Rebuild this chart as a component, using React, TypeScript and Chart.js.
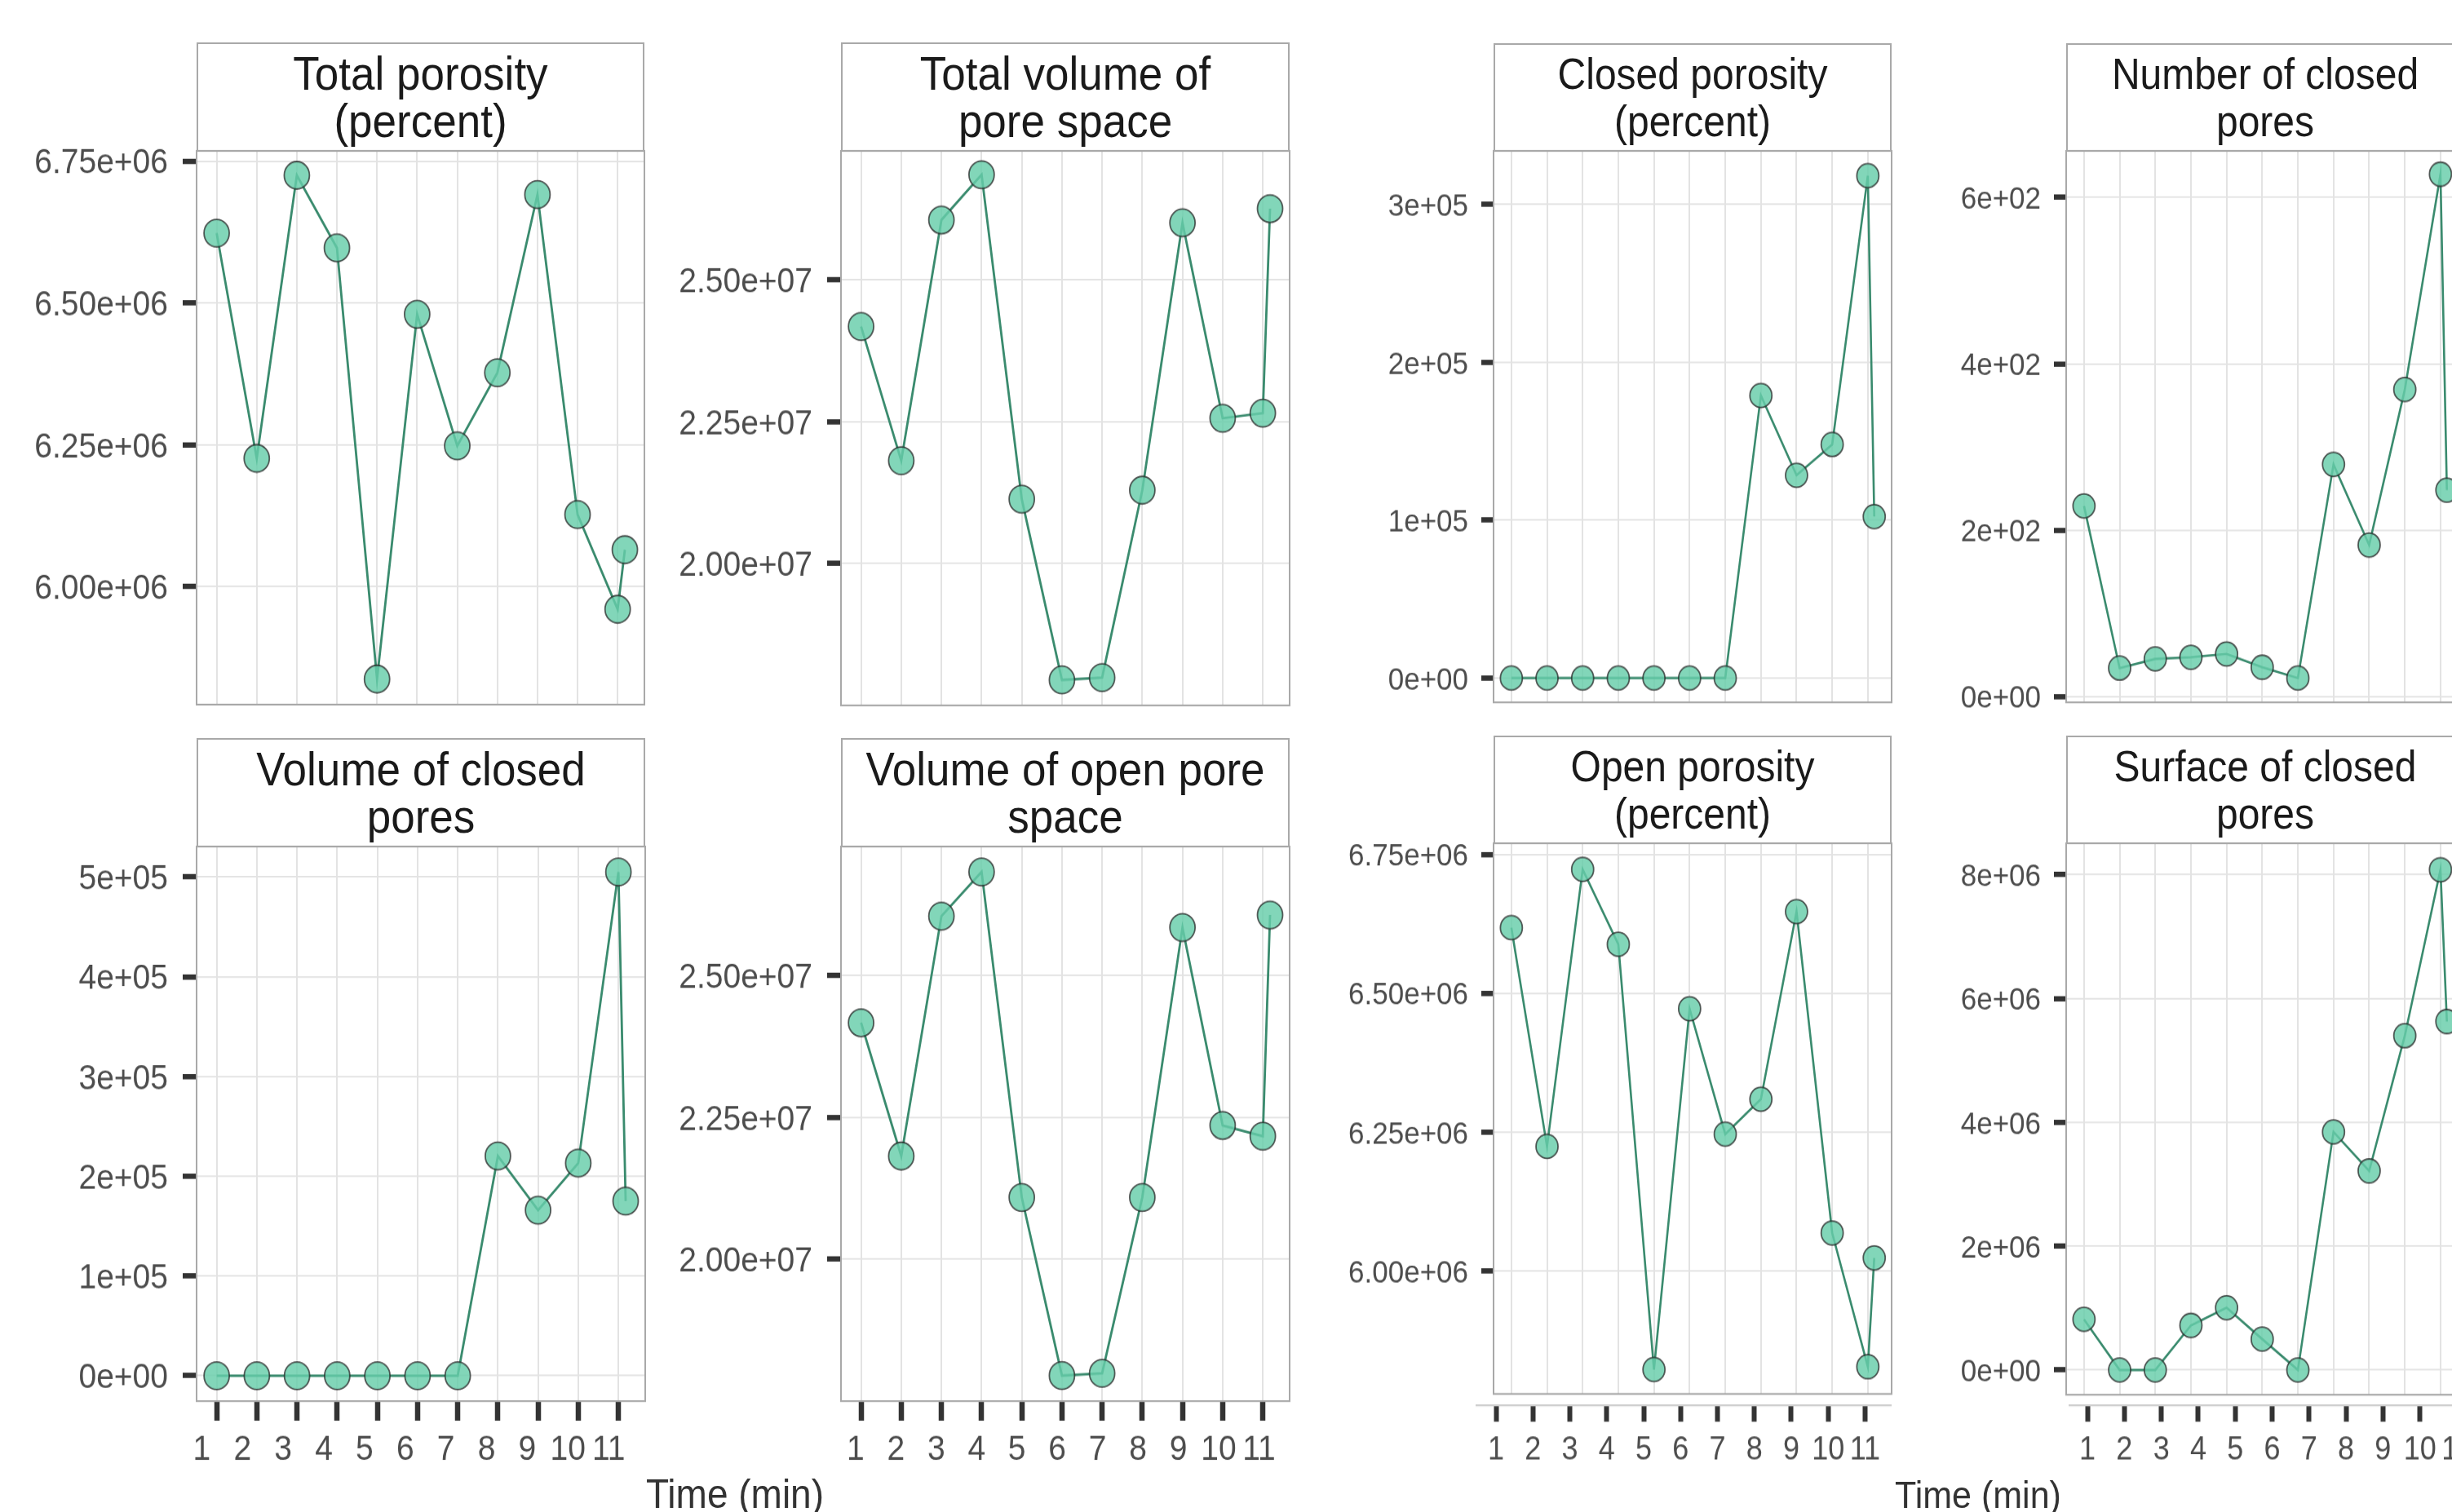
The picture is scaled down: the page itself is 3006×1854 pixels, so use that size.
import React, { useEffect, useRef } from 'react';
import { Chart, registerables } from 'chart.js';

Chart.register(...registerables);

const FONT = '"Liberation Sans", Arial, Helvetica, sans-serif';

// ---------------- data ----------------
const timeMin = [1, 2, 3, 4, 5, 6, 7, 8, 9, 10, 11, 11.18];
const xTickValues = [1, 2, 3, 4, 5, 6, 7, 8, 9, 10, 11];
const xTickLabels = ['1', '2', '3', '4', '5', '6', '7', '8', '9', '10', '11'];

const totalPorosity = [6.623e6, 6.226e6, 6.725e6, 6.597e6, 5.837e6, 6.48e6, 6.248e6, 6.377e6, 6.691e6, 6.127e6, 5.96e6, 6.065e6];
const totalPoreVolume = [2.418e7, 2.181e7, 2.606e7, 2.686e7, 2.113e7, 1.794e7, 1.798e7, 2.129e7, 2.601e7, 2.256e7, 2.265e7, 2.626e7];
const closedPorosity = [0, 0, 0, 0, 0, 0, 0, 1.79e5, 1.285e5, 1.48e5, 3.183e5, 1.023e5];
const closedPoreCount = [229, 34, 45, 47, 51, 35, 22, 279, 182, 369, 628, 248];
const closedPoreVolume = [0, 0, 0, 0, 0, 0, 0, 2.203e5, 1.66e5, 2.132e5, 5.05e5, 1.751e5];
const openPoreVolume = [2.417e7, 2.182e7, 2.605e7, 2.683e7, 2.109e7, 1.795e7, 1.799e7, 2.109e7, 2.585e7, 2.236e7, 2.217e7, 2.607e7];
const openPorosity = [6.618e6, 6.224e6, 6.723e6, 6.588e6, 5.822e6, 6.472e6, 6.246e6, 6.309e6, 6.647e6, 6.068e6, 5.827e6, 6.023e6];
const closedPoreSurface = [0.818e6, 0, 0, 0.72e6, 1.006e6, 0.499e6, 0, 3.845e6, 3.215e6, 5.399e6, 8.08e6, 5.628e6];

const porosityTicks = [6.0e6, 6.25e6, 6.5e6, 6.75e6];
const porosityTickLabels = ['6.00e+06', '6.25e+06', '6.50e+06', '6.75e+06'];
const poreVolumeTicks = [2.0e7, 2.25e7, 2.5e7];
const poreVolumeTickLabels = ['2.00e+07', '2.25e+07', '2.50e+07'];
const closedPorosityTicks = [0, 1e5, 2e5, 3e5];
const closedPorosityTickLabels = ['0e+00', '1e+05', '2e+05', '3e+05'];
const closedCountTicks = [0, 200, 400, 600];
const closedCountTickLabels = ['0e+00', '2e+02', '4e+02', '6e+02'];
const closedVolumeTicks = [0, 1e5, 2e5, 3e5, 4e5, 5e5];
const closedVolumeTickLabels = ['0e+00', '1e+05', '2e+05', '3e+05', '4e+05', '5e+05'];
const surfaceTicks = [0, 2e6, 4e6, 6e6, 8e6];
const surfaceTickLabels = ['0e+00', '2e+06', '4e+06', '6e+06', '8e+06'];

// ---------------- layout ----------------
type Side = 'left' | 'right';
type XMode = 'none' | 'split' | 'offset';
interface PanelSpec {
  title: string[];
  values: number[];
  yRange: [number, number];
  yTicks: number[];
  yLabels: string[];
  box: { l: number; t: number; r: number; b: number };
  stripTop: number;
  side: Side;
  xMode: XMode;
  gap?: number;
  x2Range?: [number, number];
  axisLineLeft?: number;
}

const SIDE_STYLE = {
  left: { yFont: 39, xFont: 39, strip: 53, tickLen: 17, tickPad: 18, pointR: 15.5, lineW: 2.8 },
  right: { yFont: 35, xFont: 36, strip: 48, tickLen: 15, tickPad: 16, pointR: 13.5, lineW: 2.6 },
};

// vertical stretch of the rendering (the reference is taller than wide)
const S = 1.09;
const STRIP_S = 1.1;
const STRIP_LH = 58;

const X_RANGE: [number, number] = [0.5, 11.667];

const PANELS: PanelSpec[] = [
  { title: ['Total porosity', '(percent)'], values: totalPorosity, yRange: [5.792e6, 6.768e6], yTicks: porosityTicks, yLabels: porosityTickLabels, box: { l: 241, t: 185, r: 790, b: 864 }, stripTop: 52, side: 'left', xMode: 'none' },
  { title: ['Total volume of', 'pore space'], values: totalPoreVolume, yRange: [1.749e7, 2.728e7], yTicks: poreVolumeTicks, yLabels: poreVolumeTickLabels, box: { l: 1031, t: 185, r: 1581, b: 865 }, stripTop: 52, side: 'left', xMode: 'none' },
  { title: ['Closed porosity', '(percent)'], values: closedPorosity, yRange: [-0.154e5, 3.34e5], yTicks: closedPorosityTicks, yLabels: closedPorosityTickLabels, box: { l: 1831, t: 185, r: 2319, b: 861 }, stripTop: 53, side: 'right', xMode: 'none' },
  { title: ['Number of closed', 'pores'], values: closedPoreCount, yRange: [-7.2, 656], yTicks: closedCountTicks, yLabels: closedCountTickLabels, box: { l: 2533, t: 185, r: 3021, b: 861 }, stripTop: 53, side: 'right', xMode: 'none' },
  { title: ['Volume of closed', 'pores'], values: closedPoreVolume, yRange: [-0.254e5, 5.305e5], yTicks: closedVolumeTicks, yLabels: closedVolumeTickLabels, box: { l: 241, t: 1038, r: 791, b: 1718 }, stripTop: 905, side: 'left', xMode: 'split', x2Range: [0.872, 11.899] },
  { title: ['Volume of open pore', 'space'], values: openPoreVolume, yRange: [1.75e7, 2.7277e7], yTicks: poreVolumeTicks, yLabels: poreVolumeTickLabels, box: { l: 1031, t: 1038, r: 1581, b: 1718 }, stripTop: 905, side: 'left', xMode: 'split', x2Range: [0.638, 11.761] },
  { title: ['Open porosity', '(percent)'], values: openPorosity, yRange: [5.778e6, 6.77e6], yTicks: porosityTicks, yLabels: porosityTickLabels, box: { l: 1831, t: 1034, r: 2319, b: 1709 }, stripTop: 902, side: 'right', xMode: 'offset', gap: 14, x2Range: [0.931, 11.72], axisLineLeft: -22 },
  { title: ['Surface of closed', 'pores'], values: closedPoreSurface, yRange: [-0.4e6, 8.507e6], yTicks: surfaceTicks, yLabels: surfaceTickLabels, box: { l: 2533, t: 1034, r: 3021, b: 1710 }, stripTop: 902, side: 'right', xMode: 'offset', gap: 13, x2Range: [0.424, 11.2], axisLineLeft: 3 },
];

const AXW = 230;
const PADT = 60;
const PADR = 40;

const panelBorder = {
  id: 'panelBorder',
  beforeDatasetsDraw(chart: any) {
    const { ctx, chartArea: a } = chart;
    ctx.save();
    ctx.strokeStyle = '#a9a9a9';
    ctx.lineWidth = 2;
    ctx.strokeRect(a.left, a.top, a.right - a.left, a.bottom - a.top);
    ctx.restore();
  },
};

function PanelChart({ spec }: { spec: PanelSpec }) {
  const ref = useRef<HTMLCanvasElement>(null);
  const st = SIDE_STYLE[spec.side];
  const plotW = spec.box.r - spec.box.l;
  const plotH = spec.box.b - spec.box.t;
  const cw = AXW + plotW + PADR;

  const padTi = PADT / S;
  const plotHi = plotH / S;
  const h1i = spec.xMode === 'none' ? 0 : spec.xMode === 'split' ? 24 / S : (spec.gap as number) / S;
  const extra = spec.xMode === 'none' ? 60 / S : 95 / S;
  const chi = Math.ceil(padTi + plotHi + h1i + extra);
  const restI = chi - padTi - plotHi - h1i;
  const padBi = spec.xMode === 'none' ? restI : 0;
  const h2i = spec.xMode === 'none' ? 0 : restI;

  useEffect(() => {
    const canvas = ref.current;
    if (!canvas) return;
    const scales: any = {
      x: {
        type: 'linear',
        position: 'bottom',
        weight: 0,
        min: X_RANGE[0],
        max: X_RANGE[1],
        afterBuildTicks: (s: any) => { s.ticks = xTickValues.map((v) => ({ value: v })); },
        afterFit: (s: any) => { s.height = h1i; },
        ticks: { display: false, autoSkip: false },
        grid: {
          color: '#e3e3e3',
          lineWidth: 2,
          drawTicks: spec.xMode === 'split',
          tickLength: 24 / S,
          tickWidth: 6.5,
          tickColor: '#333333',
        },
        border: { display: false },
      },
      y: {
        type: 'linear',
        position: 'left',
        min: spec.yRange[0],
        max: spec.yRange[1],
        afterBuildTicks: (s: any) => { s.ticks = spec.yTicks.map((v) => ({ value: v })); },
        afterFit: (s: any) => { s.width = AXW; },
        ticks: {
          autoSkip: false,
          callback: (_v: any, i: number) => spec.yLabels[i],
          font: { family: FONT, size: st.yFont },
          color: '#4d4d4d',
          padding: st.tickPad,
          labelOffset: 3.5 / S,
        },
        grid: {
          color: '#e3e3e3',
          lineWidth: 2 / S,
          drawTicks: true,
          tickLength: st.tickLen,
          tickWidth: 6.5 / S,
          tickColor: '#333333',
        },
        border: { display: false },
      },
    };
    if (spec.xMode === 'split' || spec.xMode === 'offset') {
      const offset = spec.xMode === 'offset';
      scales.x2 = {
        type: 'linear',
        position: 'bottom',
        weight: 1,
        min: (spec.x2Range as [number, number])[0],
        max: (spec.x2Range as [number, number])[1],
        afterBuildTicks: (s: any) => { s.ticks = xTickValues.map((v) => ({ value: v })); },
        afterFit: (s: any) => { s.height = h2i; },
        ticks: {
          display: true,
          autoSkip: false,
          maxRotation: 0,
          minRotation: 0,
          callback: (_v: any, i: number) => xTickLabels[i],
          font: { family: FONT, size: st.xFont },
          color: '#4d4d4d',
          padding: offset ? 10.5 : 9.5,
        },
        grid: offset
          ? { display: true, drawOnChartArea: false, drawTicks: true, tickLength: 20 / S, tickWidth: 6, tickColor: '#333333' }
          : { display: false, drawOnChartArea: false, drawTicks: false },
        border: { display: false },
      };
    }
    const axisLine = {
      id: 'axisLine',
      afterDraw(chart: any) {
        if (spec.xMode !== 'offset') return;
        const sc = chart.scales.x2;
        const { ctx, chartArea: a } = chart;
        ctx.save();
        ctx.strokeStyle = '#cfcfcf';
        ctx.lineWidth = 2.4 / S;
        ctx.beginPath();
        ctx.moveTo(a.left + (spec.axisLineLeft || 0), sc.top);
        ctx.lineTo(a.right, sc.top);
        ctx.stroke();
        ctx.restore();
      },
    };
    const chart = new Chart(canvas, {
      type: 'line',
      data: {
        datasets: [
          {
            data: timeMin.map((x, i) => ({ x, y: spec.values[i] })),
            xAxisID: 'x',
            yAxisID: 'y',
            borderColor: '#3a8b6e',
            borderWidth: st.lineW,
            tension: 0,
            pointRadius: st.pointR,
            pointBackgroundColor: 'rgba(102, 205, 170, 0.82)',
            pointBorderColor: 'rgba(40, 40, 40, 0.75)',
            pointBorderWidth: 1.8,
            clip: false,
          } as any,
        ],
      },
      options: {
        responsive: false,
        animation: false,
        devicePixelRatio: 1,
        events: [],
        layout: { padding: { top: padTi, right: PADR, bottom: padBi, left: 0 } },
        plugins: { legend: { display: false }, tooltip: { enabled: false } },
        scales,
      } as any,
      plugins: [panelBorder, axisLine],
    });
    return () => chart.destroy();
  }, []);

  return (
    <canvas
      ref={ref}
      width={cw}
      height={chi}
      style={{ position: 'absolute', left: spec.box.l - AXW, top: spec.box.t - PADT, width: cw, height: chi * S, display: 'block' }}
    />
  );
}

function Strip({ spec }: { spec: PanelSpec }) {
  const st = SIDE_STYLE[spec.side];
  return (
    <div
      style={{
        position: 'absolute',
        left: spec.box.l,
        top: spec.stripTop,
        width: spec.box.r - spec.box.l,
        height: spec.box.t - spec.stripTop + 1,
        boxSizing: 'border-box',
        border: '2px solid #a9a9a9',
        background: '#ffffff',
        display: 'flex',
        flexDirection: 'column',
        justifyContent: 'center',
        alignItems: 'center',
        fontFamily: FONT,
        fontSize: st.strip,
        lineHeight: `${STRIP_LH}px`,
        color: '#1a1a1a',
      }}
    >
      {spec.title.map((line, i) => (
        <div key={i} style={{ whiteSpace: 'nowrap', transform: `scaleY(${STRIP_S})` }}>{line}</div>
      ))}
    </div>
  );
}

export default function App() {
  return (
    <div
      style={{
        position: 'absolute',
        left: 0,
        top: 0,
        width: 3006,
        height: 1854,
        overflow: 'hidden',
        background: '#ffffff',
        fontFamily: FONT,
      }}
    >
      {PANELS.map((p, i) => (
        <Strip key={'s' + i} spec={p} />
      ))}
      {PANELS.map((p, i) => (
        <PanelChart key={'c' + i} spec={p} />
      ))}
      <div style={{ position: 'absolute', left: 751, top: 1809, width: 300, textAlign: 'center', fontSize: 46, lineHeight: '46px', color: '#333333', whiteSpace: 'nowrap', transform: `scaleY(${S})` }}>
        Time (min)
      </div>
      <div style={{ position: 'absolute', left: 2275, top: 1812, width: 300, textAlign: 'center', fontSize: 43, lineHeight: '43px', color: '#333333', whiteSpace: 'nowrap', transform: `scaleY(${S})` }}>
        Time (min)
      </div>
    </div>
  );
}
